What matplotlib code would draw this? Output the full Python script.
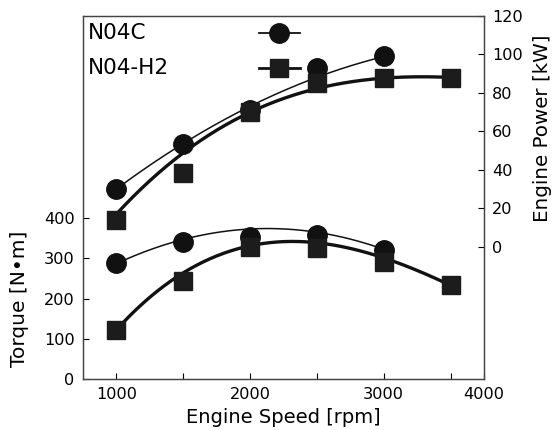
import matplotlib
matplotlib.use("Agg")
import matplotlib.pyplot as plt
import numpy as np

plt.rcParams['font.family'] = ['DejaVu Sans']

# measured points
speed_c = [1000, 1500, 2000, 2500, 3000]
speed_h2 = [1000, 1500, 2000, 2500, 3000, 3500]

torque_c = [288, 340, 353, 358, 320]
torque_h2 = [122, 243, 328, 325, 290, 233]
power_c = [30, 53.5, 71, 93, 99]
power_h2 = [14, 38.5, 70, 85, 88, 88]

# trend curves
trend_torque_c = [288, 345, 370, 370, 320]
trend_torque_h2 = [122, 264, 330, 340, 300, 233]
trend_power_c = [30, 54, 73, 88, 99]
trend_power_h2 = [17, 49, 70, 82, 88, 88]

names = ['N04C', 'N04-H2']

ink = '#111111'
ink_sq = '#1c1c1c'

fig = plt.figure(figsize=(5.55, 4.3), dpi=100)
ax = fig.add_axes([0.1495, 0.1186, 0.7225, 0.8442])
ax2 = ax.twinx()


def trend(axis, xs, ys, deg, lw):
    xx = np.linspace(xs[0], xs[-1], 200)
    yy = np.polyval(np.polyfit(xs, ys, deg), xx)
    axis.plot(xx, yy, color=ink, lw=lw, zorder=2)


# torque (left axis)
trend(ax, speed_c, trend_torque_c, 2, 1.1)
trend(ax, speed_h2, trend_torque_h2, 3, 2.4)
ax.plot(speed_c, torque_c, 'o', color=ink, ms=14, zorder=3)
ax.plot(speed_h2, torque_h2, 's', color=ink_sq, ms=12.5, zorder=3)

# power (right axis)
trend(ax2, speed_c, trend_power_c, 2, 1.1)
trend(ax2, speed_h2, trend_power_h2, 3, 2.4)
ax2.plot(speed_c, power_c, 'o', color=ink, ms=14, zorder=3)
ax2.plot(speed_h2, power_h2, 's', color=ink_sq, ms=12.5, zorder=3)

ax.set_xlim(750, 3750)
ax.set_ylim(0, 902)
ax2.set_ylim(-68.6, 120)

ax.set_xticks([1000, 1500, 2000, 2500, 3000, 3500, 3750])
ax.set_xticklabels(['1000', '', '2000', '', '3000', '', '4000'])
ax.set_yticks([0, 100, 200, 300, 400])
ax2.set_yticks([0, 20, 40, 60, 80, 100, 120])

ax.tick_params(axis='both', direction='in', length=4, width=0.8, labelsize=11.6, pad=6)
ax2.tick_params(axis='y', direction='in', length=4, width=0.8, labelsize=11.6, pad=6)

for a in (ax, ax2):
    for s in a.spines.values():
        s.set_color('#444444')
        s.set_linewidth(0.9)

ax.set_xlabel('Engine Speed [rpm]', fontsize=14, labelpad=4)
ax.set_ylabel('Torque [N•m]', fontsize=14.5)
ax.yaxis.set_label_coords(-0.135, 0.22)
ax2.set_ylabel('Engine Power [kW]', fontsize=14.3)
ax2.yaxis.set_label_coords(1.122, 0.69)

# legend: names on the left, symbols further right
tr = ax.transAxes
ax.text(0.0125, 0.953, names[0], transform=tr, fontsize=15.5, va='center', ha='left')
ax.text(0.0125, 0.857, names[1], transform=tr, fontsize=15.5, va='center', ha='left')
ax.plot([0.439, 0.541], [0.953, 0.953], color=ink, lw=1.3, transform=tr, clip_on=False)
ax.plot([0.489], [0.953], 'o', color=ink, ms=14, transform=tr, clip_on=False)
ax.plot([0.439, 0.541], [0.857, 0.857], color=ink, lw=2.0, transform=tr, clip_on=False)
ax.plot([0.489], [0.857], 's', color=ink_sq, ms=12.5, transform=tr, clip_on=False)

fig.savefig('out.png', dpi=100)
